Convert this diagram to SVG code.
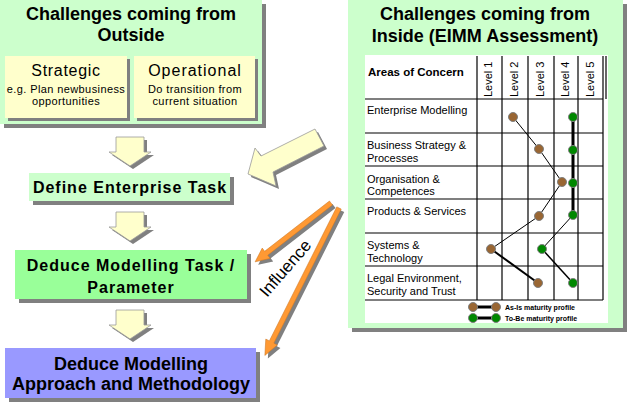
<svg xmlns="http://www.w3.org/2000/svg" width="627" height="404" viewBox="0 0 627 404">
<style>
text{font-family:"Liberation Sans",Arial,sans-serif;fill:#000}
.b{font-weight:bold}
.sh{fill:#808080}
.yel{fill:#ffffcc;stroke:#999;stroke-width:0.8}
.grid{stroke:#000;stroke-width:1.2}
.row{font-size:11px}
.lv{font-size:11px}
.br{fill:#996633;stroke:#808080;stroke-width:1}
.gr{fill:#008800;stroke:#808080;stroke-width:1}
.org{fill:#ff9933;stroke:#cc7722;stroke-width:0.5}
</style>
<defs>
<path id="dn" d="M-14,0 H14 V15 H21 L0,29 L-21,15 H-14 Z"/>
</defs>
<rect width="627" height="404" fill="#fff"/>

<g id="outside">
<rect class="sh" x="4" y="4" width="262" height="124"/>
<rect x="0" y="0" width="262" height="124" fill="#ccffcc"/>
<text class="b" x="131" y="20" font-size="18" text-anchor="middle">Challenges coming from</text>
<text class="b" x="131" y="41" font-size="18" text-anchor="middle">Outside</text>
</g>
<g id="strategic">
<rect class="sh" x="8" y="59" width="122" height="62"/>
<rect x="5" y="56" width="122" height="62" fill="#ffffcc"/>
<text x="66" y="76" font-size="16" letter-spacing="0.7" text-anchor="middle">Strategic</text>
<text x="66" y="93" font-size="11" letter-spacing="0.4" text-anchor="middle">e.g. Plan newbusiness</text>
<text x="66" y="105" font-size="11" letter-spacing="0.4" text-anchor="middle">opportunities</text>
</g>
<g id="operational">
<rect class="sh" x="137" y="59" width="121" height="62"/>
<rect x="134" y="56" width="121" height="62" fill="#ffffcc"/>
<text x="195" y="76" font-size="16" letter-spacing="1" text-anchor="middle">Operational</text>
<text x="195" y="93" font-size="11" letter-spacing="0.4" text-anchor="middle">Do transition from</text>
<text x="195" y="105" font-size="11" letter-spacing="0.4" text-anchor="middle">current situation</text>
</g>

<g id="define">
<rect class="sh" x="33" y="177" width="201" height="28"/>
<rect x="29" y="173" width="201" height="28" fill="#ccffcc"/>
<text class="b" x="130" y="193" font-size="16" letter-spacing="1" text-anchor="middle">Define Enterprise Task</text>
</g>
<g id="deduce-task">
<rect class="sh" x="19" y="254" width="232" height="49"/>
<rect x="15" y="250" width="232" height="49" fill="#99ff99"/>
<text class="b" x="131" y="271" font-size="16" letter-spacing="1" text-anchor="middle">Deduce Modelling Task /</text>
<text class="b" x="131" y="293" font-size="16" letter-spacing="1" text-anchor="middle">Parameter</text>
</g>
<g id="deduce-approach">
<rect class="sh" x="9" y="352" width="251" height="50"/>
<rect x="5" y="348" width="251" height="50" fill="#9999ff"/>
<text class="b" x="131" y="370" font-size="18" text-anchor="middle">Deduce Modelling</text>
<text class="b" x="131" y="390" font-size="18" text-anchor="middle">Approach and Methodology</text>
</g>

<g id="inside">
<rect class="sh" x="352" y="4" width="275" height="328"/>
<rect x="348" y="0" width="275" height="328" fill="#ccffcc"/>
<text class="b" x="485" y="20" font-size="18" text-anchor="middle">Challenges coming from</text>
<text class="b" x="485" y="42" font-size="18" text-anchor="middle">Inside (EIMM Assessment)</text>
<rect x="365" y="55" width="243" height="268" fill="#fff"/>
<g class="grid">
<line x1="365" y1="99" x2="603" y2="99"/>
<line x1="365" y1="133" x2="603" y2="133"/>
<line x1="365" y1="166" x2="603" y2="166"/>
<line x1="365" y1="199" x2="603" y2="199"/>
<line x1="365" y1="233" x2="603" y2="233"/>
<line x1="365" y1="266" x2="603" y2="266"/>
<line x1="365" y1="300" x2="603" y2="300"/>
<line x1="477" y1="56" x2="477" y2="300"/>
<line x1="502" y1="56" x2="502" y2="300"/>
<line x1="528" y1="56" x2="528" y2="300"/>
<line x1="554" y1="56" x2="554" y2="300"/>
<line x1="578" y1="56" x2="578" y2="300"/>
<line x1="603" y1="56" x2="603" y2="300"/>
<line x1="606" y1="56" x2="606" y2="99"/>
</g>
<text class="b" x="368" y="76" font-size="11.5">Areas of Concern</text>
<text class="lv" transform="translate(492,97) rotate(-90)">Level 1</text>
<text class="lv" transform="translate(518,97) rotate(-90)">Level 2</text>
<text class="lv" transform="translate(544,97) rotate(-90)">Level 3</text>
<text class="lv" transform="translate(569,97) rotate(-90)">Level 4</text>
<text class="lv" transform="translate(594,97) rotate(-90)">Level 5</text>
<text class="row" x="367" y="114">Enterprise Modelling</text>
<text class="row" x="367" y="149">Business Strategy &amp;</text>
<text class="row" x="367" y="162">Processes</text>
<text class="row" x="367" y="183">Organisation &amp;</text>
<text class="row" x="367" y="195">Competences</text>
<text class="row" x="367" y="215">Products &amp; Services</text>
<text class="row" x="367" y="249">Systems &amp;</text>
<text class="row" x="367" y="262">Technology</text>
<text class="row" x="367" y="282" font-size="11.5">Legal Environment,</text>
<text class="row" x="367" y="295" font-size="11.5">Security and Trust</text>
<g fill="none" stroke="#000">
<polyline points="513,117 539,149 562,182 539,216 491,249" stroke-width="1"/>
<line x1="491" y1="249" x2="538" y2="283" stroke-width="2"/>
<line x1="573" y1="117" x2="573" y2="215" stroke-width="3"/>
<line x1="573" y1="215" x2="542" y2="249" stroke-width="1"/>
<line x1="542" y1="249" x2="573" y2="283" stroke-width="1.5"/>
<line x1="473" y1="307" x2="496" y2="307" stroke-width="3"/>
<line x1="473" y1="318" x2="496" y2="318" stroke-width="3"/>
</g>
<circle class="br" cx="513" cy="117" r="4.5"/>
<circle class="br" cx="539" cy="149" r="4.5"/>
<circle class="br" cx="562" cy="182" r="4.5"/>
<circle class="br" cx="539" cy="216" r="4.5"/>
<circle class="br" cx="491" cy="249" r="4.5"/>
<circle class="br" cx="538" cy="283" r="4.5"/>
<circle class="gr" cx="573" cy="117" r="4.5"/>
<circle class="gr" cx="573" cy="150" r="4.5"/>
<circle class="gr" cx="573" cy="183" r="4.5"/>
<circle class="gr" cx="573" cy="215" r="4.5"/>
<circle class="gr" cx="542" cy="249" r="4.5"/>
<circle class="gr" cx="573" cy="283" r="4.5"/>
<circle class="br" cx="473" cy="307" r="4.5"/>
<circle class="br" cx="496" cy="307" r="4.5"/>
<circle class="gr" cx="473" cy="318" r="4.5"/>
<circle class="gr" cx="496" cy="318" r="4.5"/>
<text class="b" x="505" y="310" font-size="7">As-Is maturity profile</text>
<text class="b" x="505" y="321" font-size="7">To-Be maturity profile</text>
</g>

<g id="connectors">
<use href="#dn" class="sh" transform="translate(133,140)"/>
<use href="#dn" class="yel" transform="translate(130,137)"/>
<use href="#dn" class="sh" transform="translate(133,215)"/>
<use href="#dn" class="yel" transform="translate(130,212)"/>
<use href="#dn" class="sh" transform="translate(133,313)"/>
<use href="#dn" class="yel" transform="translate(130,310)"/>
<polygon class="sh" points="318,132 327,149 276,175 279,189 251,177 258,151 264,159"/>
<polygon class="yel" points="315,129 324,146 273,172 276,186 248,174 255,148 261,156"/>
<path class="sh" transform="translate(334,206) rotate(142.2)" d="M0,-2.5 H82 V-6.5 L96,0 L82,6.5 V2.5 H0 Z"/>
<path class="org" transform="translate(331,203) rotate(142.2)" d="M0,-2.5 H82 V-6.5 L96,0 L82,6.5 V2.5 H0 Z"/>
<path class="sh" transform="translate(342,211) rotate(116.7)" d="M0,-2.5 H150 V-6.5 L165,0 L150,6.5 V2.5 H0 Z"/>
<path class="org" transform="translate(339,208) rotate(116.7)" d="M0,-2.5 H150 V-6.5 L165,0 L150,6.5 V2.5 H0 Z"/>
<text transform="translate(285,268) rotate(-49)" font-size="17" text-anchor="middle" dy="6">Influence</text>
</g>
</svg>
